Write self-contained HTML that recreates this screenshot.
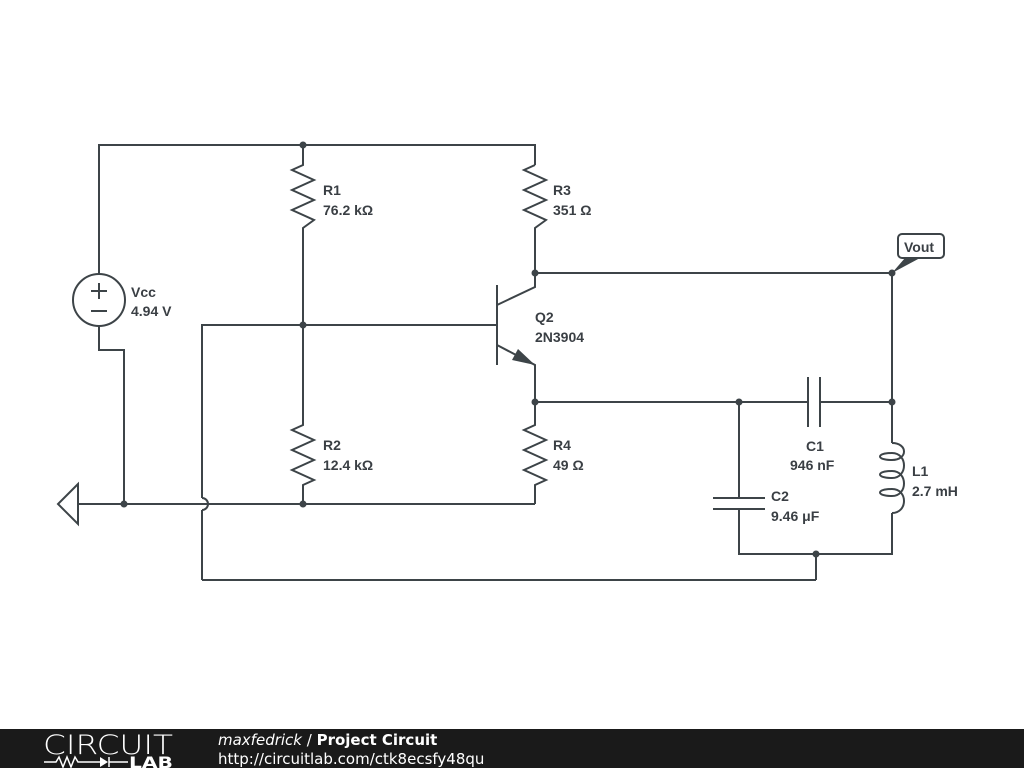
<!DOCTYPE html>
<html><head><meta charset="utf-8"><style>
html,body{margin:0;padding:0;background:#fff;width:1024px;height:768px;overflow:hidden}
svg{display:block}
text{font-family:"Liberation Sans",sans-serif;font-weight:bold;font-size:14px;fill:#3a3f44}
.ft{font-family:"DejaVu Sans",sans-serif;font-size:15px;fill:#fff;font-weight:normal}
</style></head><body>
<svg width="1024" height="768" viewBox="0 0 1024 768">
<g stroke="#3d4448" stroke-width="2" fill="none" stroke-linejoin="miter">
<polyline points="99,274 99,145 535,145 535,165"/>
<circle cx="99" cy="300" r="26"/>
<line x1="91" y1="291" x2="107" y2="291"/><line x1="99" y1="283" x2="99" y2="299"/>
<line x1="91" y1="311" x2="107" y2="311"/>
<polyline points="99,326 99,350 124,350 124,504"/>
<polygon points="78,484 58,504 78,524"/>
<line x1="78" y1="504" x2="535" y2="504"/>
<polyline points="303,145 303,165 292,170 314,180 292,190 314,200 292,210 314,220 303,228 303,425 292,430 314,440 292,450 314,460 292,470 314,480 303,485 303,504"/>
<polyline points="535,165 524,170 546,180 524,190 546,200 524,210 546,220 535,228 535,287 497,305"/>
<polyline points="202,498 202,325 497,325"/>
<path d="M202,498 A6,6 0 0 1 202,510"/>
<line x1="202" y1="510" x2="202" y2="580"/>
<line x1="497" y1="285" x2="497" y2="365"/>
<polyline points="497,345 535,365 535,425 524,430 546,440 524,450 546,460 524,470 546,480 535,485 535,504"/>
<line x1="535" y1="273" x2="892" y2="273"/>
<line x1="892" y1="273" x2="892" y2="443"/>
<line x1="535" y1="402" x2="808" y2="402"/>
<line x1="820" y1="402" x2="892" y2="402"/>
<line x1="808" y1="377" x2="808" y2="427"/><line x1="820" y1="377" x2="820" y2="427"/>
<line x1="739" y1="402" x2="739" y2="498"/>
<line x1="713" y1="498" x2="765" y2="498"/><line x1="713" y1="509" x2="765" y2="509"/>
<polyline points="739,509 739,554 892,554 892,513"/>
<line x1="816" y1="554" x2="816" y2="580"/><line x1="202" y1="580" x2="816" y2="580"/>
<path d="M892,443 C908,443 908,460 892,460 C876,460 876,453 892,453 C908,453 908,478 892,478 C876,478 876,471 892,471 C908,471 908,496 892,496 C876,496 876,489 892,489 C908,489 908,513 892,513"/>
<rect x="898" y="234" width="46" height="24" rx="4" ry="4"/>
</g>
<polygon points="892,273 905,258 920,258" fill="#3d4448"/>
<polygon points="535,365 512,360 518,349" fill="#3d4448"/>
<g fill="#3d4448">
<circle cx="303" cy="145" r="3.5"/><circle cx="124" cy="504" r="3.5"/><circle cx="303" cy="504" r="3.5"/>
<circle cx="303" cy="325" r="3.5"/><circle cx="535" cy="273" r="3.5"/><circle cx="535" cy="402" r="3.5"/>
<circle cx="739" cy="402" r="3.5"/><circle cx="892" cy="402" r="3.5"/><circle cx="816" cy="554" r="3.5"/>
<circle cx="892" cy="273" r="3.5"/>
</g>
<text x="131" y="297">Vcc</text><text x="131" y="316">4.94 V</text>
<text x="323" y="195">R1</text><text x="323" y="215">76.2 kΩ</text>
<text x="553" y="195">R3</text><text x="553" y="215">351 Ω</text>
<text x="535" y="322">Q2</text><text x="535" y="342">2N3904</text>
<text x="323" y="450">R2</text><text x="323" y="470">12.4 kΩ</text>
<text x="553" y="450">R4</text><text x="553" y="470">49 Ω</text>
<text x="806" y="451">C1</text><text x="790" y="470">946 nF</text>
<text x="771" y="501">C2</text><text x="771" y="521">9.46 μF</text>
<text x="912" y="476">L1</text><text x="912" y="496">2.7 mH</text>
<text x="904" y="252">Vout</text>
<rect x="0" y="729" width="1024" height="39" fill="#1a1a1a"/>
<text x="43" y="754" textLength="130" lengthAdjust="spacingAndGlyphs" style="font-family:'DejaVu Sans',sans-serif;font-weight:200;font-size:27px;fill:#fff">CIRCUIT</text>
<polyline points="44,762 56,762 59,757 63,767 67,757 71,767 75,757 78,762 100,762" stroke="#fff" stroke-width="1.5" fill="none"/>
<polygon points="100,757 100,767 108,762" fill="#fff"/>
<line x1="109" y1="757" x2="109" y2="767" stroke="#fff" stroke-width="1.5"/>
<line x1="109" y1="762" x2="128" y2="762" stroke="#fff" stroke-width="1.5"/>
<text x="129" y="768" textLength="44" lengthAdjust="spacingAndGlyphs" style="font-family:'DejaVu Sans',sans-serif;font-size:16px;fill:#fff;font-weight:bold">LAB</text>
<text x="218" y="745" class="ft"><tspan font-style="italic">maxfedrick</tspan> / <tspan font-weight="bold">Project Circuit</tspan></text>
<text x="218" y="764" class="ft">http://circuitlab.com/ctk8ecsfy48qu</text>
</svg>
</body></html>
